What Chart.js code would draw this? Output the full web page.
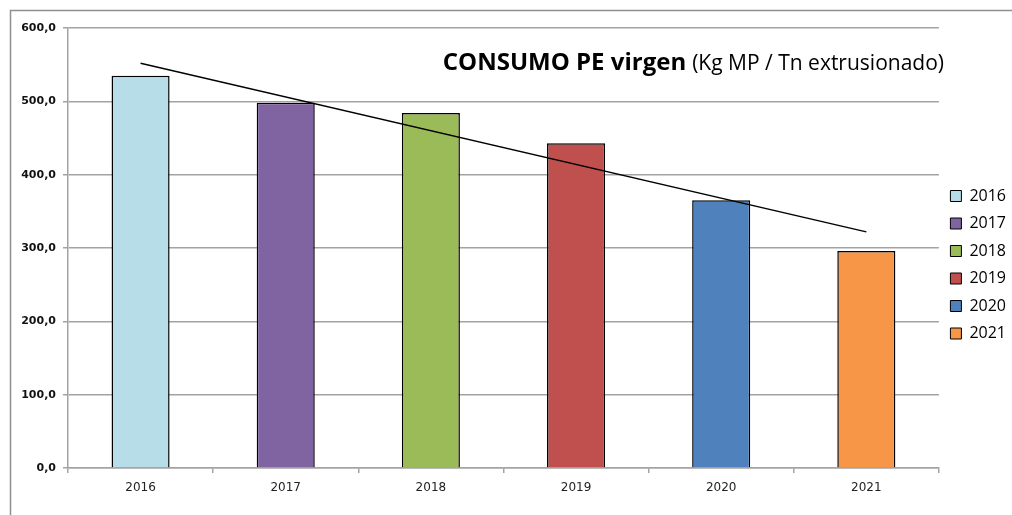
<!DOCTYPE html>
<html>
<head>
<meta charset="utf-8">
<script src="https://cdn.jsdelivr.net/npm/chart.js@4.4.1/dist/chart.umd.min.js"></script>
<style>
  html, body { margin: 0; padding: 0; background: #fff; }
  #wrap { width: 1012px; height: 515px; position: relative; }
</style>
</head>
<body>
<div id="wrap"><canvas id="chart" width="1012" height="515"></canvas></div>
<script>
// values
var years = ["2016", "2017", "2018", "2019", "2020", "2021"]
var consumo = [535, 498, 484, 443, 365, 296]
// trend line end points (the middle ones left empty, line is straight)
var tendencia = [552, null, null, null, null, 322]
var barColors = ["#B7DDE8", "#8064A2", "#9BBB59", "#C0504D", "#4F81BD", "#F79646"]
var yTicks = [0, 100, 200, 300, 400, 500, 600]

var gridColor = "#a3a3a3"
var padBottom = 13.5

function fmt(v) {
	return v.toFixed(1).replace(".", ",")
}

// gray frame around the whole chart + the title inside the plot
var framePlugin = {
	id: "frame",
	beforeDraw: function(chart) {
		var ctx = chart.ctx
		ctx.save()
		ctx.fillStyle = "#fff"
		ctx.fillRect(0, 0, chart.width, chart.height)
		ctx.strokeStyle = "#8f8f8f"
		ctx.lineWidth = 1.5
		ctx.beginPath()
		ctx.moveTo(10.5, chart.height)
		ctx.lineTo(10.5, 10.5)
		ctx.lineTo(chart.width, 10.5)
		ctx.stroke()
		ctx.restore()
	},
	afterDraw: function(chart) {
		var ctx = chart.ctx
		var right = 944, base = 70
		ctx.save()
		ctx.fillStyle = "#000"
		ctx.textBaseline = "alphabetic"
		ctx.textAlign = "right"
		ctx.font = "21px 'Open Sans'"
		var sub = "(Kg MP / Tn extrusionado)"
		ctx.fillText(sub, right, base)
		var w = ctx.measureText(sub).width
		ctx.font = "bold 24px 'Open Sans'"
		ctx.fillText("CONSUMO PE virgen", right - w - 6, base)
		ctx.restore()
	}
}

var ctx = document.getElementById("chart").getContext("2d")
var chart = new Chart(ctx, {
	type: "bar",
	data: {
		labels: years,
		datasets: [
			{
				type: "line",
				label: "tendencia",
				data: tendencia,
				borderColor: "#000",
				borderWidth: 1.5,
				pointRadius: 0,
				spanGaps: true,
				fill: false,
				order: 0
			},
			{
				label: "consumo",
				data: consumo,
				backgroundColor: barColors,
				borderColor: "#000",
				borderWidth: 1.5,
				barPercentage: 0.4,
				categoryPercentage: 1.0,
				order: 1
			}
		]
	},
	options: {
		responsive: false,
		animation: false,
		layout: { padding: { top: 28, left: 0, right: -4, bottom: padBottom } },
		plugins: {
			title: { display: false },
			tooltip: { enabled: false },
			legend: {
				position: "right",
				onClick: null,
				labels: {
					boxWidth: 11,
					boxHeight: 11,
					padding: 11.5,
					color: "#222",
					font: { family: "'Open Sans'", size: 16 },
					generateLabels: function(chart) {
						return years.map(function(y, i) {
							return {
								text: y,
								fillStyle: barColors[i],
								strokeStyle: "#000",
								lineWidth: 1,
								hidden: false,
								index: i,
								datasetIndex: 1
							}
						})
					}
				}
			}
		},
		scales: {
			x: {
				grid: {
					display: true,
					drawOnChartArea: false,
					tickLength: 5,
					color: gridColor,
					lineWidth: 1.5
				},
				border: { display: true, color: gridColor, width: 1.5 },
				ticks: {
					color: "#222",
					padding: 8,
					font: { family: "'DejaVu Sans'", size: 12 }
				},
				afterFit: function(s) { s.height = 515 - padBottom - 468 }
			},
			y: {
				min: 0,
				max: 600,
				afterBuildTicks: function(s) {
					s.ticks = yTicks.map(function(v) { return { value: v } })
				},
				grid: {
					color: gridColor,
					lineWidth: 1.5,
					tickLength: 5
				},
				border: { display: true, color: gridColor, width: 1.5 },
				ticks: {
					color: "#111",
					padding: 7,
					font: { family: "'DejaVu Sans'", size: 11, weight: "bold" },
					callback: function(v) { return fmt(v) }
				},
				afterFit: function(s) { s.width = 68 }
			}
		}
	},
	plugins: [framePlugin]
})
</script>
</body>
</html>
